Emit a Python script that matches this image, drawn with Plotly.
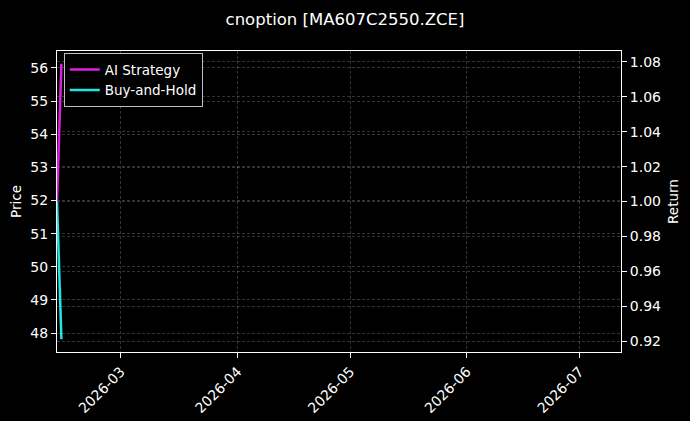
import plotly.graph_objects as go

# Dates and normalised returns
dates = ["2026-02-12", "2026-02-13 04:00"]
ai_strategy = [1.0, 1.079]
buy_and_hold = [1.0, 0.921]

title = "cnoption [MA607C2550.ZCE]"
x_range = ["2026-02-12", "2026-07-12"]
price_range = [47.43, 56.51]
return_range = [0.9137, 1.0863]

font = "DejaVu Sans"
grid_color = "rgba(255,255,255,0.2)"

fig = go.Figure()

# empty trace so the left (Price) axis gets drawn
fig.add_trace(go.Scatter(x=[], y=[], showlegend=False, hoverinfo="skip"))

fig.add_trace(go.Scatter(x=dates, y=ai_strategy, mode="lines", name="AI Strategy",
                         line=dict(color="#e020e0", width=2.5), yaxis="y2"))
fig.add_trace(go.Scatter(x=dates, y=buy_and_hold, mode="lines", name="Buy-and-Hold",
                         line=dict(color="#20e6e6", width=2.5), yaxis="y2"))

axis_common = dict(
    showline=True, linecolor="white", linewidth=1,
    ticks="outside", ticklen=5, tickcolor="white",
    tickfont=dict(family=font, size=14, color="white"),
    showgrid=True, gridcolor=grid_color, griddash="3px,2px", gridwidth=0.6,
    zeroline=False, automargin=False,
)

fig.update_layout(
    width=690, height=421,
    paper_bgcolor="black", plot_bgcolor="black",
    margin=dict(l=57, r=69, t=51, b=69),
    title=dict(text=title, x=0.5, xanchor="center", y=0.955, yanchor="middle",
               font=dict(family=font, size=16.5, color="white")),
    xaxis=dict(range=x_range, type="date", tickformat="%Y-%m", tickangle=-45,
               dtick="M1", tick0="2026-03-01", mirror=True, **axis_common),
    yaxis=dict(range=price_range, dtick=1,
               title=dict(text="Price", font=dict(family=font, size=13.5, color="white"), standoff=5),
               **axis_common),
    yaxis2=dict(range=return_range, dtick=0.02, tickformat=".2f", overlaying="y", side="right",
                title=dict(text="Return", font=dict(family=font, size=13.5, color="white"), standoff=8),
                **axis_common),
    legend=dict(x=0.012, y=0.993, xanchor="left", yanchor="top",
                bgcolor="black", bordercolor="rgba(255,255,255,0.75)", borderwidth=1,
                font=dict(family=font, size=13.5, color="white")),
    showlegend=True,
)

# page has an 8px body margin by default, drop it so the figure sits at 0,0
fig.write_html("out.html", config={"displayModeBar": False},
               post_script="document.body.style.margin='0';document.body.style.background='black';")
